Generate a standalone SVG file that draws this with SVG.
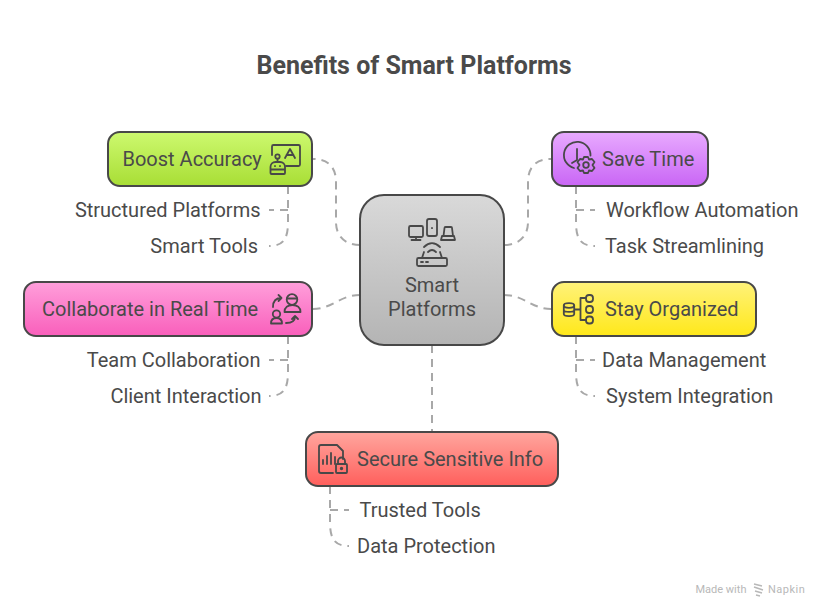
<svg xmlns="http://www.w3.org/2000/svg" width="828" height="616" viewBox="0 0 828 616">
<style>
text{font-family:Roboto,"Liberation Sans",sans-serif;fill:#4a4a4a}
.t{font-size:20px}
.l{font-size:20px}
.b{stroke:#484848;stroke-width:2}
.i{fill:none;stroke:#484848;stroke-width:1.8;stroke-linecap:round;stroke-linejoin:round}
.c{fill:none;stroke:#a8a8a8;stroke-width:2;stroke-dasharray:8 6}
.m{font-size:11px;fill:#b8b8b8}
</style>
<defs>
<linearGradient id="g" x1="0" y1="0" x2="0" y2="1"><stop offset="0" stop-color="#d9d9d9"/><stop offset="1" stop-color="#b4b4b4"/></linearGradient>
<linearGradient id="lime" x1="0" y1="0" x2="0" y2="1"><stop offset="0" stop-color="#cdf96f"/><stop offset="1" stop-color="#a8de35"/></linearGradient>
<linearGradient id="pur" x1="0" y1="0" x2="0" y2="1"><stop offset="0" stop-color="#e8aaff"/><stop offset="1" stop-color="#c966f5"/></linearGradient>
<linearGradient id="pink" x1="0" y1="0" x2="0" y2="1"><stop offset="0" stop-color="#ff9fdb"/><stop offset="1" stop-color="#f95fbb"/></linearGradient>
<linearGradient id="yel" x1="0" y1="0" x2="0" y2="1"><stop offset="0" stop-color="#fff27a"/><stop offset="1" stop-color="#ffe81a"/></linearGradient>
<linearGradient id="red" x1="0" y1="0" x2="0" y2="1"><stop offset="0" stop-color="#ffa69e"/><stop offset="1" stop-color="#ff5f5c"/></linearGradient>
</defs>
<rect width="828" height="616" fill="#fff"/>
<text id="title" x="414" y="74" text-anchor="middle" font-size="25" font-weight="700">Benefits of Smart Platforms</text>
<g id="connectors">
<path class="c" d="M360 245C346 245 336 237 336 222V182C336 167 328 159 313 159"/>
<path class="c" d="M504 245C518 245 528 237 528 222V182C528 167 536 159 551 159"/>
<path class="c" d="M360 295C340 295 332 309 313 309"/>
<path class="c" d="M504 295C524 295 532 309 551 309"/>
<path class="c" d="M432 345V432"/>
<path class="c" d="M288 186V222C288 238 284 246 269 246"/>
<path class="c" d="M288 210H269"/>
<path class="c" d="M576 186V222C576 238 580 246 595 246"/>
<path class="c" d="M576 210H595"/>
<path class="c" d="M288 336V372C288 388 284 396 269 396"/>
<path class="c" d="M288 360H269"/>
<path class="c" d="M576 336V372C576 388 580 396 595 396"/>
<path class="c" d="M576 360H595"/>
<path class="c" d="M330 486V522C330 538 334 546 349 546"/>
<path class="c" d="M330 510H349"/>
</g>
<g id="center">
<rect class="b" x="360" y="195" width="144" height="150" rx="24" fill="url(#g)"/>
<g class="i">
<rect x="409" y="226" width="14" height="11" rx="1.500"/><path d="M416 237V240M411.500 240H420.500"/>
<rect x="427" y="219" width="10" height="17" rx="2"/><path d="M432 228V228.200"/>
<path d="M443.500 236L444.500 228a1 1 0 0 1 1-1H451a1 1 0 0 1 1 1L453 236M442 236H454L455 240H441Z"/>
<path d="M424 247C429 242 435 242 440 247M428 252C430.500 249.500 433.500 249.500 436 252"/>
<rect x="417" y="258" width="30" height="8" rx="1.500"/><path d="M422 258L424 252M442 258L440 252M421 262H423M426 262H428"/>
</g>
<text class="t" x="432" y="292" text-anchor="middle">Smart</text>
<text class="t" x="432" y="316" text-anchor="middle">Platforms</text>
</g>
<g id="boost">
<rect class="b" x="108" y="132" width="204" height="54" rx="12" fill="url(#lime)"/>
<text class="t" x="122.500" y="166">Boost Accuracy</text>
<path class="i" d="M272 155V146.500a1.500 1.500 0 0 1 1.500-1.500H298.500a1.500 1.500 0 0 1 1.500 1.500V164.500a1.500 1.500 0 0 1-1.500 1.500H286M285 158L290 149L295 158M286.500 155H293.500"/>
<circle class="i" cx="277.500" cy="156.500" r="2.200"/>
<path class="i" d="M277.500 159V161.500M270.500 173V167a5 5 0 0 1 5-5H280a5 5 0 0 1 5 5V173a1 1 0 0 1-1 1H271.500a1 1 0 0 1-1-1ZM270.500 169.500H285M275 166V166.200M280 166V166.200"/>
</g>
<g id="boost-l">
<text class="l" x="260.500" y="217" text-anchor="end">Structured Platforms</text>
<text class="l" x="258" y="253" text-anchor="end">Smart Tools</text>
</g>
<g id="save">
<rect class="b" x="552" y="132" width="156" height="54" rx="12" fill="url(#pur)"/>
<path class="i" d="M574 168A13.300 13.300 0 1 1 590.500 155.500M577 149V160L572 163"/>
<circle class="i" cx="586" cy="165" r="2.800"/>
<path class="i" d="M584 157H588L589 159.500L592 159L594.500 162L592.500 165L594.500 168L592 171L589 170.500L588 173H584L583 170.500L580 171L577.500 168L579.500 165L577.500 162L580 159L583 159.500Z"/>
<text class="t" x="602" y="166">Save Time</text>
</g>
<g id="save-l">
<text class="l" x="606" y="217">Workflow Automation</text>
<text class="l" x="605" y="253">Task Streamlining</text>
</g>
<g id="collab">
<rect class="b" x="24" y="282" width="288" height="54" rx="12" fill="url(#pink)"/>
<text class="t" x="42" y="316">Collaborate in Real Time</text>
<circle class="i" cx="292" cy="299.500" r="5.300"/>
<path class="i" d="M287 298.500H297M284.500 312C284.500 307.500 288 305 292.500 305C297 305 300.500 307.500 300.500 312ZM273 307C273 301 276 298 281.500 298M278.500 295L281.500 298L278.500 301M271 323.500C271 320 273 318 276.500 318C280 318 282 320 282 323.500ZM286 323C291 323 295 321 295 316.500M292 319L295 316L298 319"/>
<circle class="i" cx="276.500" cy="314" r="3.700"/>
</g>
<g id="collab-l">
<text class="l" x="260.500" y="367" text-anchor="end">Team Collaboration</text>
<text class="l" x="261.500" y="403" text-anchor="end">Client Interaction</text>
</g>
<g id="org">
<rect class="b" x="552" y="282" width="204" height="54" rx="12" fill="url(#yel)"/>
<g class="i"><ellipse cx="569" cy="305.500" rx="5.200" ry="2.300"/><path d="M563.800 305.500V314C563.800 316.800 574.200 316.800 574.200 314V305.500M563.800 310C563.800 312.500 574.200 312.500 574.200 310M574.500 309.500H580.500M586 298H580.500V320H586"/>
<rect x="586" y="295" width="7" height="7" rx="3"/><rect x="586" y="306" width="7" height="7" rx="3"/><rect x="586" y="316.500" width="7" height="7" rx="3"/></g>
<text class="t" x="605" y="316">Stay Organized</text>
</g>
<g id="org-l">
<text class="l" x="602" y="367">Data Management</text>
<text class="l" x="606" y="403">System Integration</text>
</g>
<g id="secure">
<rect class="b" x="306" y="432" width="252" height="54" rx="12" fill="url(#red)"/>
<path class="i" d="M333 473H321a2 2 0 0 1-2-2V447a2 2 0 0 1 2-2H337L343 451V459"/>
<path class="i" d="M323 464V460M327 464V456M331 464V453M335 464V457"/>
<rect class="i" x="336" y="464" width="11" height="9" rx="1"/><path class="i" d="M338 464V461a3.500 3.500 0 0 1 7 0V464"/>
<circle class="i" cx="341.500" cy="468.500" r="0.800"/>
<text class="t" x="357" y="466">Secure Sensitive Info</text>
</g>
<g id="secure-l">
<text class="l" x="359.500" y="517">Trusted Tools</text>
<text class="l" x="357" y="553">Data Protection</text>
</g>
<g id="brand">
<text class="m" x="695.500" y="593">Made with</text>
<path d="M754 584L762 586M754 587L763 590M755 591L762 593M756 595L760 596" fill="none" stroke="#b8b8b8" stroke-width="1.500"/>
<text class="m" x="768" y="593" letter-spacing="0.500">Napkin</text>
</g>
</svg>
